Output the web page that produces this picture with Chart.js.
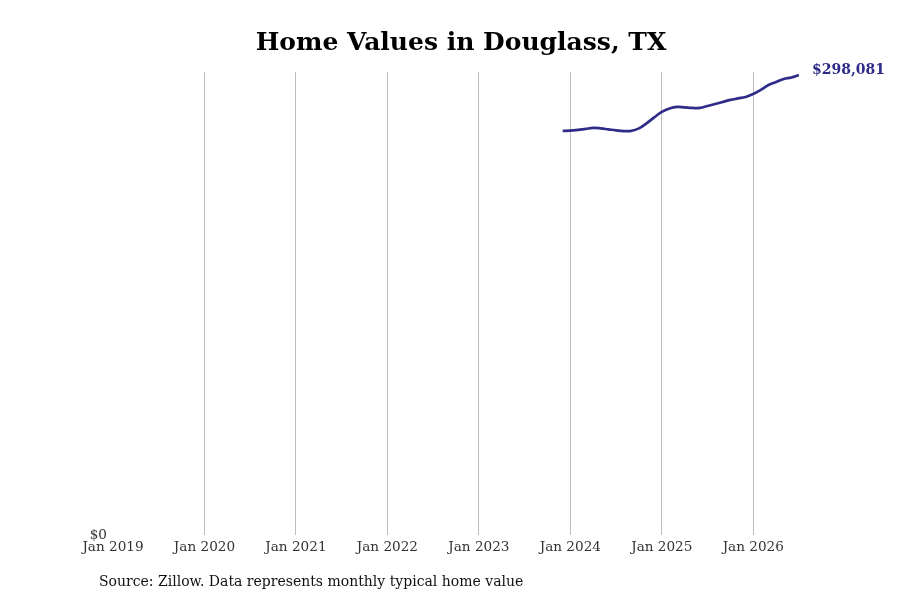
<!DOCTYPE html>
<html>
<head>
<meta charset="utf-8">
<script src="https://cdn.jsdelivr.net/npm/chart.js@4"></script>
<style>
  html, body { margin: 0; padding: 0; background: #fff; }
  #wrap { width: 900px; height: 600px; }
</style>
</head>
<body>
<div id="wrap"><canvas id="home-chart"></canvas></div>
<script>
// Dữ liệu: tháng (YYYY-MM) và giá trị nhà điển hình
const months = [
    '2023-12', '2024-01', '2024-02', '2024-03', '2024-04', '2024-05', '2024-06', '2024-07',
    '2024-08', '2024-09', '2024-10', '2024-11', '2024-12', '2025-01', '2025-02', '2025-03',
    '2025-04', '2025-05', '2025-06', '2025-07', '2025-08', '2025-09', '2025-10', '2025-11',
    '2025-12', '2026-01', '2026-02', '2026-03', '2026-04', '2026-05', '2026-06', '2026-07'
];
const homeValues = [
    261830, 261960, 262480, 263130, 263770, 263450, 262800, 262160,
    261700, 261830, 263450, 266690, 270570, 274130, 276400, 277370,
    277040, 276720, 276720, 278010, 279310, 280600, 281900, 282870,
    283840, 285780, 288370, 291610, 293550, 295490, 296460, 298081
];
const startYear = 2019;
const endLabel = '$298,081';
const chartTitle = 'Home Values in Douglass, TX';
const sourceText = 'Source: Zillow. Data represents monthly typical home value';

const lineColor = '#2e2c88';
const serif = '"DejaVu Serif", serif';

// Đổi tháng thành chỉ số tháng kể từ Jan 2019
function monthIndex(m) {
    const [y, mo] = m.split('-').map(Number);
    return (y - startYear) * 12 + (mo - 1);
}

const points = months.map((m, i) => ({ x: monthIndex(m), y: homeValues[i] }));

// Tiêu đề, nhãn giá trị cuối và dòng nguồn
const extrasPlugin = {
    id: 'extras',
    afterDatasetsDraw(chart) {
        const ctx = chart.ctx;
        const meta = chart.getDatasetMeta(0);
        const last = meta.data[meta.data.length - 1];
        ctx.save();
        ctx.textBaseline = 'middle';

        ctx.font = 'bold 25px ' + serif;
        ctx.fillStyle = '#000';
        ctx.textAlign = 'center';
        ctx.fillText(chartTitle, 461, 43);

        ctx.font = 'bold 14px ' + serif;
        ctx.fillStyle = lineColor;
        ctx.textAlign = 'left';
        ctx.fillText(endLabel, last.x + 13, last.y - 4.5);

        ctx.font = '14px ' + serif;
        ctx.fillStyle = '#111';
        ctx.fillText(sourceText, 99, 582.5);
        ctx.restore();
    }
};

const ctx = document.getElementById('home-chart').getContext('2d');
new Chart(ctx, {
    type: 'line',
    data: {
        datasets: [{
            data: points,
            borderColor: lineColor,
            borderWidth: 2.7,
            pointRadius: 0,
            tension: 0.4,
            fill: false
        }]
    },
    options: {
        responsive: true,
        maintainAspectRatio: false,
        animation: false,
        layout: { padding: { top: 72, right: 101, bottom: 0, left: 0 } },
        plugins: {
            legend: { display: false },
            tooltip: { enabled: false },
            title: { display: false }
        },
        scales: {
            x: {
                type: 'linear',
                min: 0,
                max: 90,
                afterBuildTicks(scale) {
                    scale.ticks = scale.ticks.filter(t => t.value % 12 === 0);
                },
                afterFit(scale) { scale.height = 65; },
                ticks: {
                    stepSize: 12,
                    autoSkip: false,
                    maxRotation: 0,
                    padding: 4,
                    color: '#333',
                    font: { family: serif, size: 13.6 },
                    callback: v => 'Jan ' + (startYear + v / 12)
                },
                grid: {
                    drawTicks: false,
                    color: c => (c.tick && c.tick.value === 0) ? 'rgba(0,0,0,0)' : '#bdbdbd',
                    lineWidth: 1
                },
                border: { display: false }
            },
            y: {
                min: 0,
                max: 300000,
                afterFit(scale) { scale.width = 113; },
                ticks: {
                    stepSize: 50000,
                    padding: 6,
                    color: '#333',
                    font: { family: serif, size: 13.6 },
                    callback: v => v === 0 ? '$0' : ''
                },
                grid: { display: false, drawTicks: false },
                border: { display: false }
            }
        }
    },
    plugins: [extrasPlugin]
});
</script>
</body>
</html>
